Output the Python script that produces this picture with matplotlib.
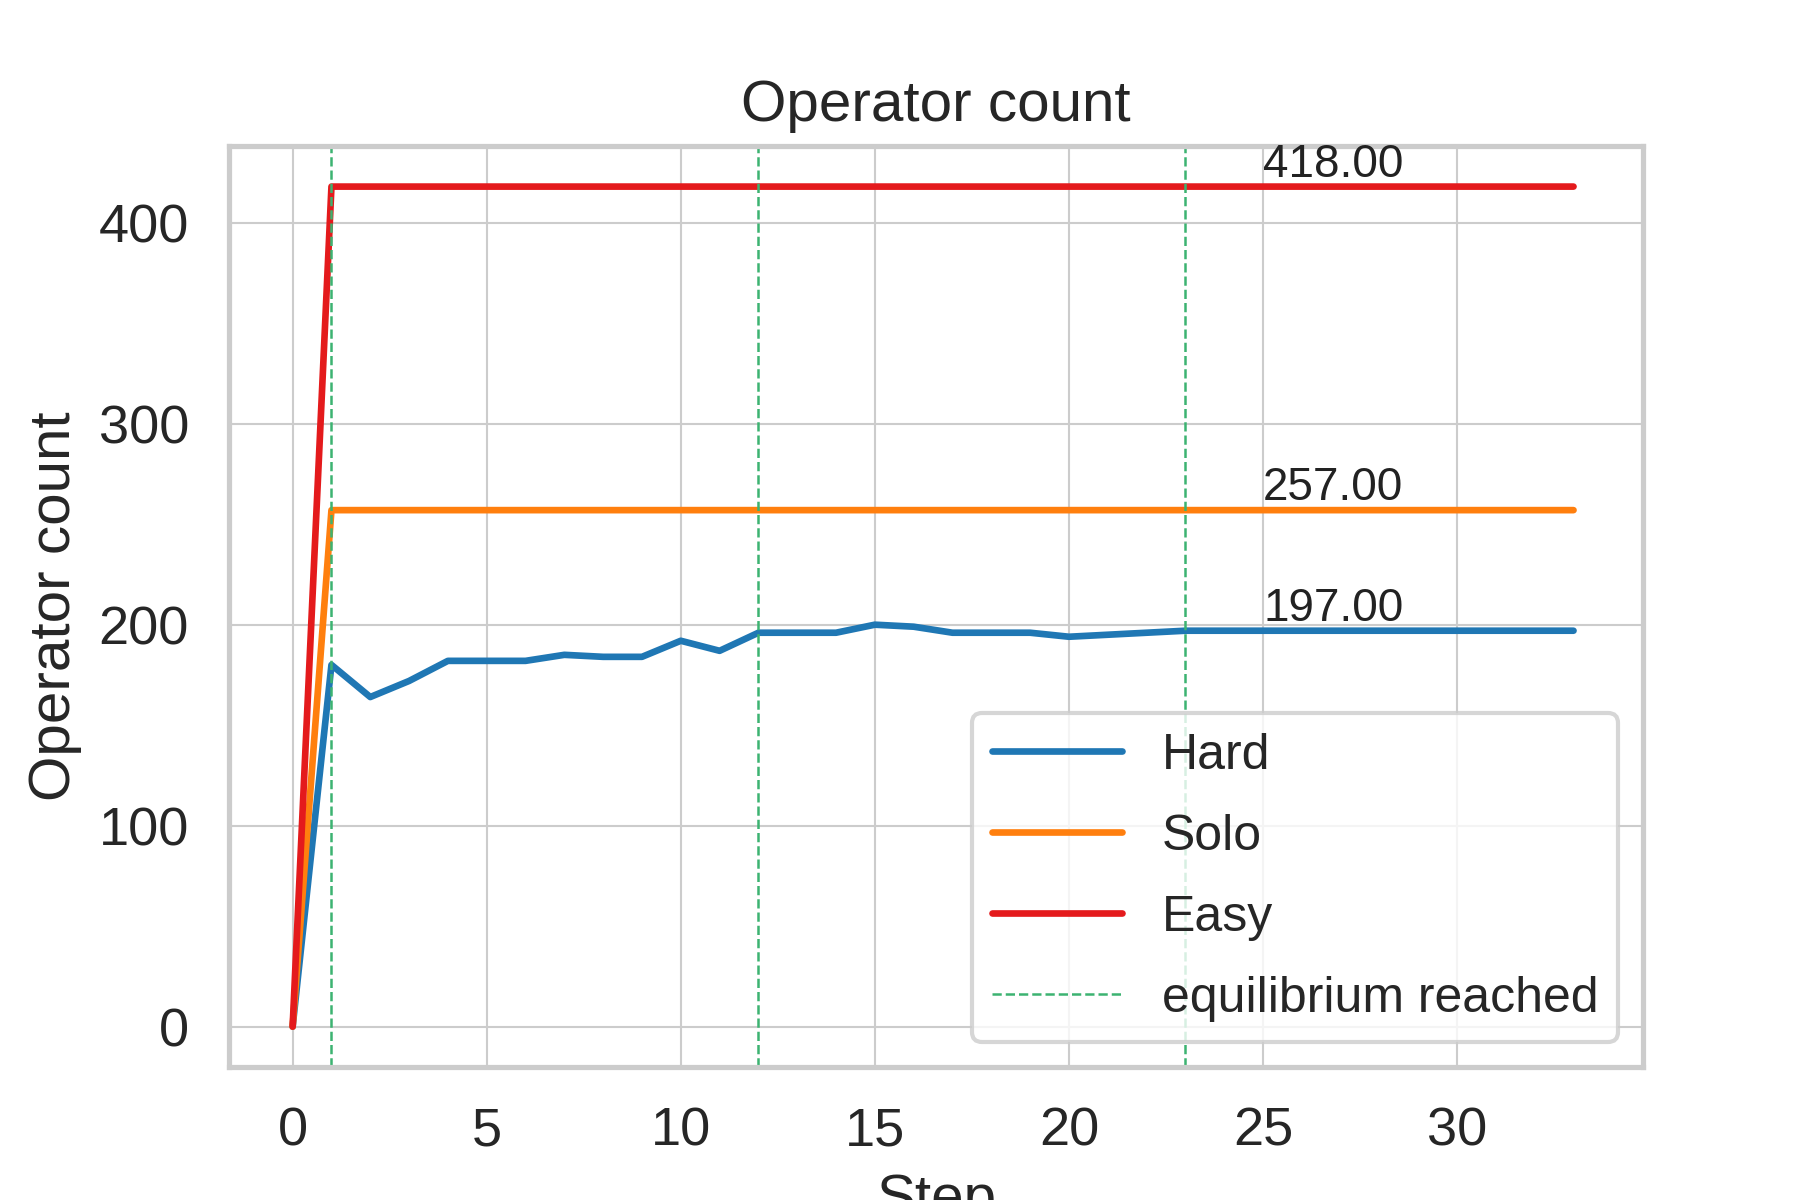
import matplotlib
matplotlib.use("Agg")
import matplotlib.pyplot as plt
import seaborn as sns

steps = list(range(34))
hard = [0, 180, 164, 172, 182, 182, 182, 185, 184, 184, 192, 187, 196, 196, 196,
        200, 199, 196, 196, 196, 194, 195, 196, 197] + [197] * 10
solo = [0] + [257] * 33
easy = [0] + [418] * 33
equilibrium = [1, 12, 23]

sns.set_theme(style="whitegrid")
plt.rcParams["font.family"] = ["Arial", "Liberation Sans", "DejaVu Sans"]
plt.rcParams["grid.linewidth"] = 0.5

fig = plt.figure(figsize=(6, 4), dpi=300)
ax = fig.add_axes([0.127, 0.111, 0.786, 0.767])

ax.plot(steps, hard, color="#1f77b4", lw=1.6, label="Hard")
ax.plot(steps, solo, color="#ff7f0e", lw=1.6, label="Solo")
ax.plot(steps, easy, color="#e41a1c", lw=1.6, label="Easy")
for i, s in enumerate(equilibrium):
    ax.axvline(s, color="#3cb371", ls="--", lw=0.6,
               label="equilibrium reached" if i == 0 else None)

for series in (hard, solo, easy):
    ax.text(25, series[-1], f"{series[-1]:.2f}", fontsize=11, va="bottom", color="#222222")

ax.set_xlim(-1.65, 34.8)
ax.set_ylim(-20, 438)
ax.set_xticks([0, 5, 10, 15, 20, 25, 30])
ax.set_yticks([0, 100, 200, 300, 400])
ax.tick_params(labelsize=13)
ax.set_title("Operator count", fontsize=14)
ax.set_xlabel("Step", fontsize=14)
ax.set_ylabel("Operator count", fontsize=14)
ax.legend(loc="lower right", fontsize=12, handlelength=2.6, labelspacing=0.7)

fig.savefig("out.png", dpi=300)
